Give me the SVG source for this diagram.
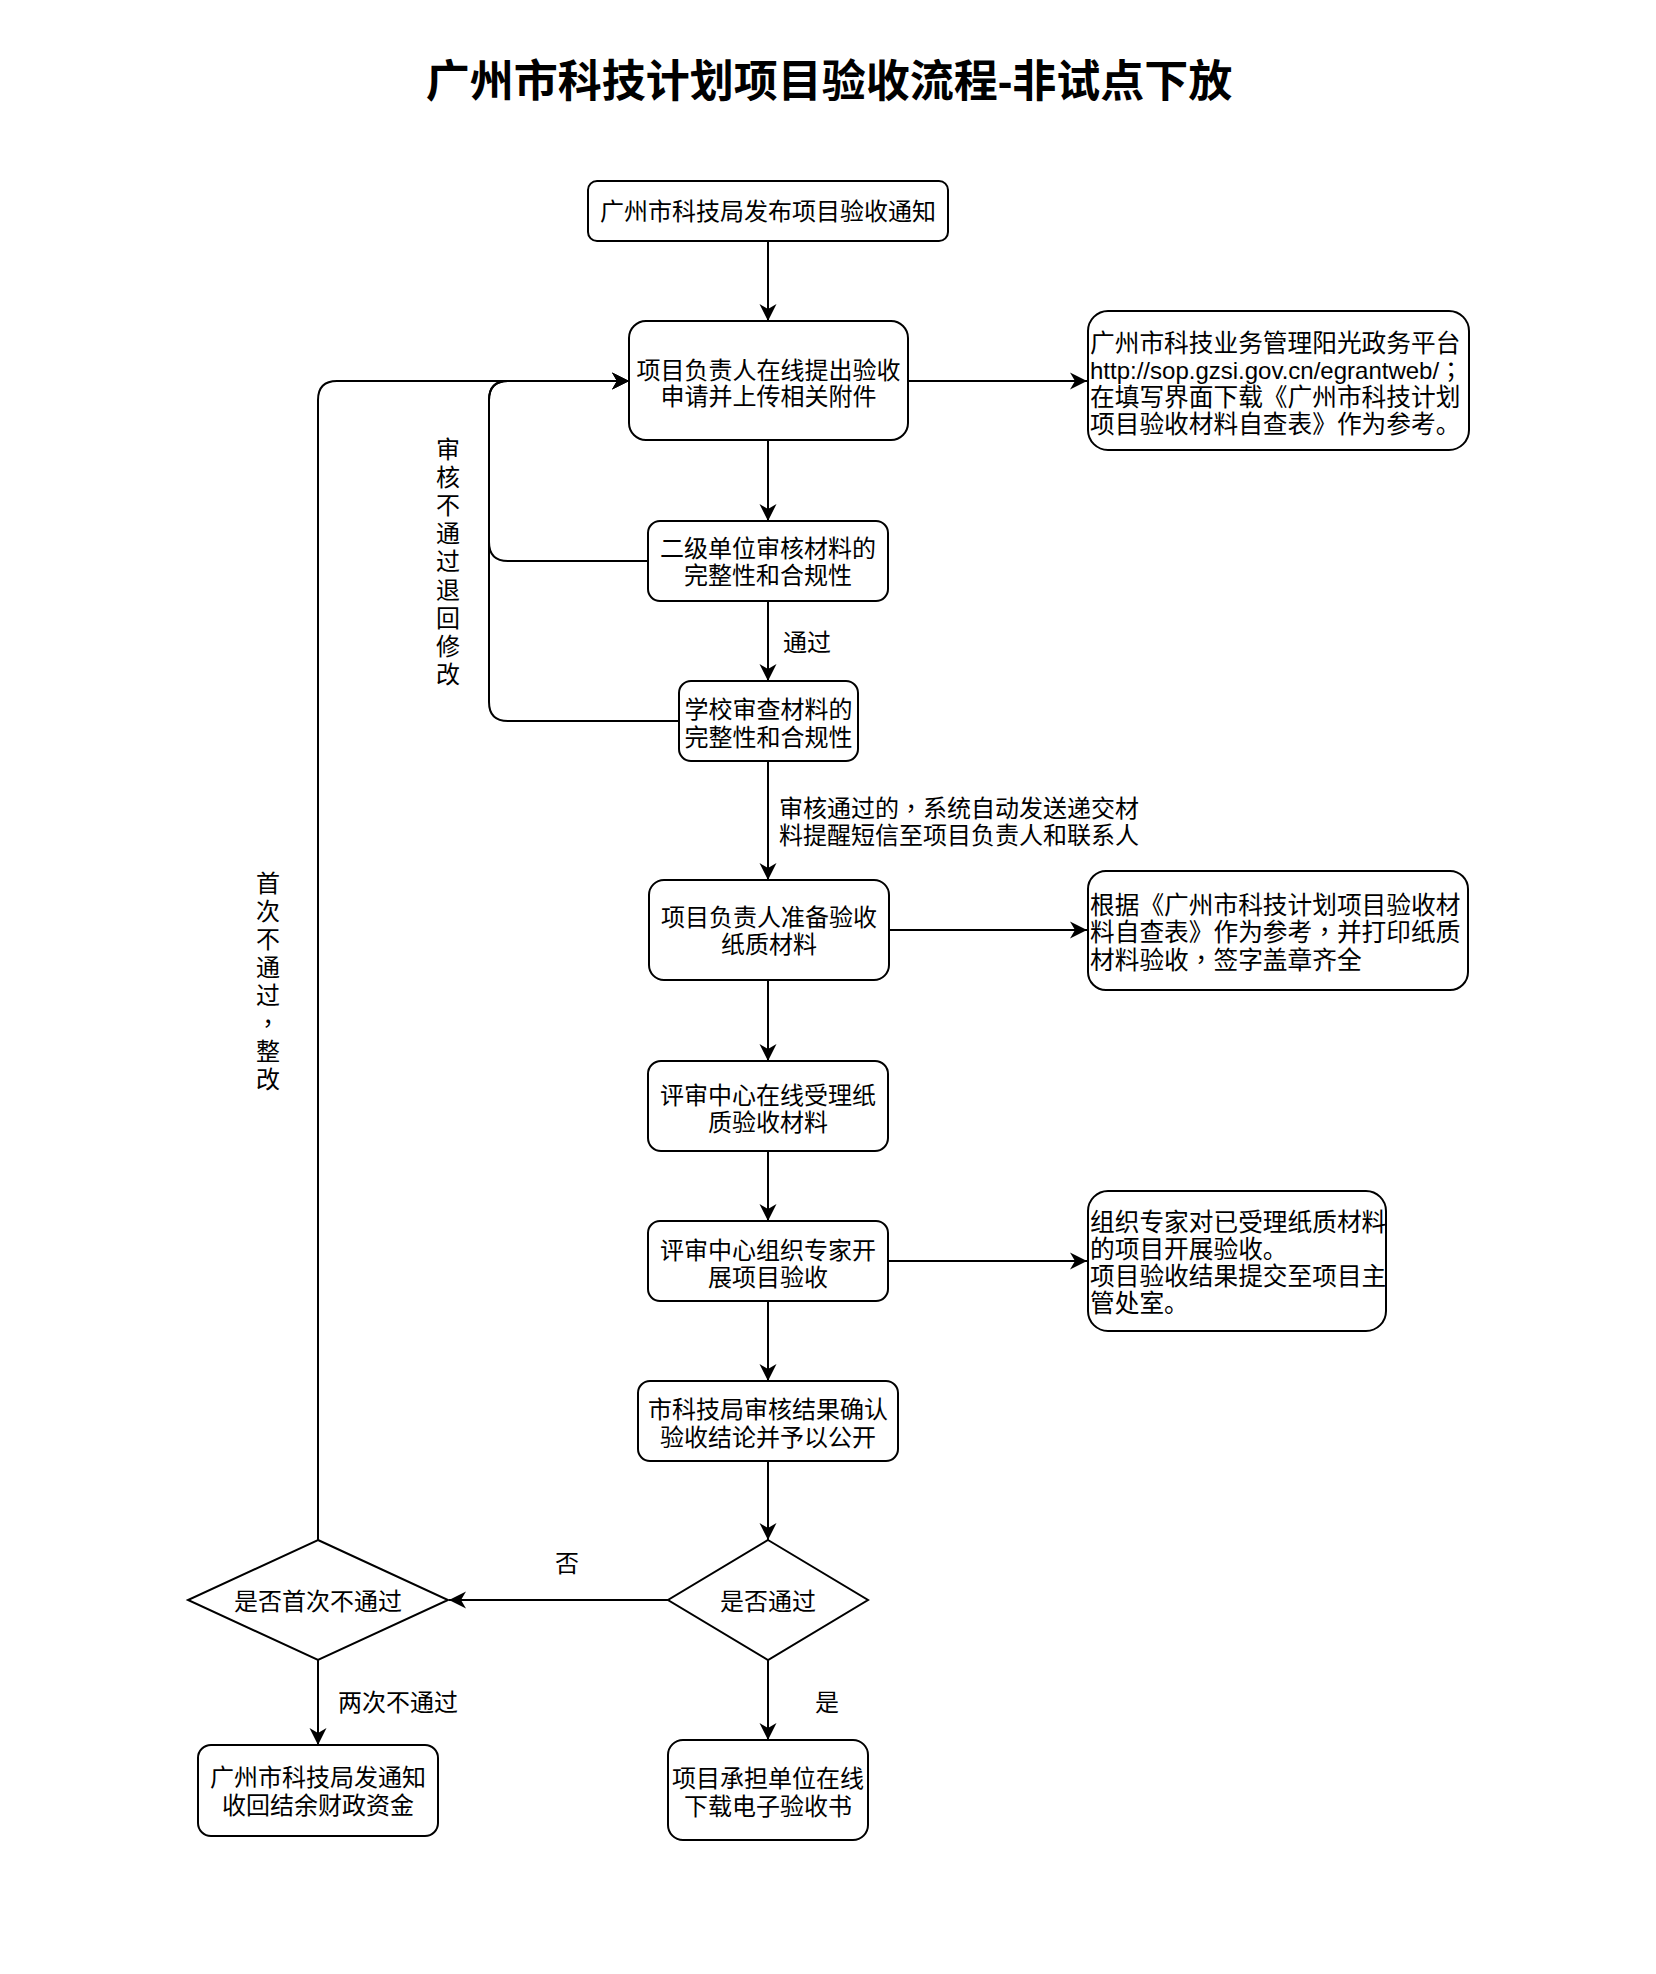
<svg xmlns="http://www.w3.org/2000/svg" width="1656" height="1974" viewBox="0 0 1656 1974">
<style>
.bg{fill:#ffffff}
.node{fill:#ffffff;stroke:#000000;stroke-width:2}
.edge{fill:none;stroke:#000000;stroke-width:2}
text{font-family:"Liberation Sans","Noto Sans CJK SC",sans-serif;fill:#000000}
.t{font-size:24px;text-anchor:middle}
.l{font-size:24px;text-anchor:start}
.i{font-size:24.7px;text-anchor:start}
.p{font-family:"Noto Sans CJK TC",sans-serif}
.title{font-size:44px;font-weight:bold;text-anchor:middle}
</style>
<defs>
<marker id="arr" markerUnits="userSpaceOnUse" markerWidth="18" markerHeight="18" viewBox="0 0 18 18" refX="17" refY="9" orient="auto">
<path d="M0,0.5 L17,9 L0,17.5 L5,9 Z" fill="#000000"/>
</marker>
</defs>
<rect class="bg" x="0" y="0" width="1656" height="1974"/>
<text class="title" x="829" y="97">广州市科技计划项目验收流程-非试点下放</text>

<g id="connectors">
<path class="edge" d="M768,241 L768,321" marker-end="url(#arr)"/>
<path class="edge" d="M908,381 L1087,381" marker-end="url(#arr)"/>
<path class="edge" d="M768,440 L768,521" marker-end="url(#arr)"/>
<path class="edge" d="M648,561 L508,561 Q489,561 489,542 L489,400 Q489,381 508,381 L629,381" marker-end="url(#arr)"/>
<path class="edge" d="M768,601 L768,681" marker-end="url(#arr)"/>
<path class="edge" d="M679,721 L508,721 Q489,721 489,702 L489,400 Q489,381 508,381 L629,381" marker-end="url(#arr)"/>
<path class="edge" d="M768,761 L768,880" marker-end="url(#arr)"/>
<path class="edge" d="M889,930 L1087,930" marker-end="url(#arr)"/>
<path class="edge" d="M768,980 L768,1061" marker-end="url(#arr)"/>
<path class="edge" d="M768,1151 L768,1221" marker-end="url(#arr)"/>
<path class="edge" d="M888,1261 L1087,1261" marker-end="url(#arr)"/>
<path class="edge" d="M768,1301 L768,1381" marker-end="url(#arr)"/>
<path class="edge" d="M768,1461 L768,1540" marker-end="url(#arr)"/>
<path class="edge" d="M668,1600 L449,1600" marker-end="url(#arr)"/>
<path class="edge" d="M768,1660 L768,1740" marker-end="url(#arr)"/>
<path class="edge" d="M318,1660 L318,1745" marker-end="url(#arr)"/>
<path class="edge" d="M318,1540 L318,400 Q318,381 337,381 L629,381" marker-end="url(#arr)"/>
<text class="l" x="783" y="650.5">通过</text>
<text class="l" x="779" y="816.5">审核通过的<tspan class="p">，</tspan>系统自动发送递交材</text>
<text class="l" x="779" y="843.5">料提醒短信至项目负责人和联系人</text>
<text class="t" x="567" y="1571.5">否</text>
<text class="t" x="827" y="1710.5">是</text>
<text class="l" x="338" y="1710.5">两次不通过</text>
<text class="t" x="448" y="457.5"><tspan x="448">审</tspan><tspan x="448" dy="28.2">核</tspan><tspan x="448" dy="28.2">不</tspan><tspan x="448" dy="28.2">通</tspan><tspan x="448" dy="28.2">过</tspan><tspan x="448" dy="28.2">退</tspan><tspan x="448" dy="28.2">回</tspan><tspan x="448" dy="28.2">修</tspan><tspan x="448" dy="28.2">改</tspan></text>
<text class="t" x="268" y="891.5"><tspan x="268">首</tspan><tspan x="268" dy="28.1">次</tspan><tspan x="268" dy="28.1">不</tspan><tspan x="268" dy="28.1">通</tspan><tspan x="268" dy="28.1">过</tspan><tspan x="268" dy="28.1" class="p">，</tspan><tspan x="268" dy="28.1">整</tspan><tspan x="268" dy="28.1">改</tspan></text>
</g>

<g id="n1"><rect class="node" x="588" y="181" width="360" height="60" rx="9"/><text class="t" x="768" y="220">广州市科技局发布项目验收通知</text></g>
<g id="n2"><rect class="node" x="629" y="321" width="279" height="119" rx="17"/><text class="t" x="768.5" y="379">项目负责人在线提出验收</text><text class="t" x="768.5" y="405">申请并上传相关附件</text></g>
<g id="info1"><rect class="node" x="1088" y="311" width="381" height="139" rx="20"/><text class="i" x="1090" y="351.5">广州市科技业务管理阳光政务平台</text><text class="l" x="1090" y="378.5">http://sop.gzsi.gov.cn/egrantweb/<tspan class="p">；</tspan></text><text class="i" x="1090" y="405.5">在填写界面下载《广州市科技计划</text><text class="i" x="1090" y="432.5">项目验收材料自查表》作为参考。</text></g>
<g id="n3"><rect class="node" x="648" y="521" width="240" height="80" rx="12"/><text class="t" x="768" y="557">二级单位审核材料的</text><text class="t" x="768" y="584">完整性和合规性</text></g>
<g id="n4"><rect class="node" x="679" y="681" width="179" height="80" rx="12"/><text class="t" x="768.5" y="717.5">学校审查材料的</text><text class="t" x="768.5" y="745.5">完整性和合规性</text></g>
<g id="n5"><rect class="node" x="649" y="880" width="240" height="100" rx="15"/><text class="t" x="769" y="925.5">项目负责人准备验收</text><text class="t" x="769" y="953">纸质材料</text></g>
<g id="info2"><rect class="node" x="1088" y="871" width="380" height="119" rx="18"/><text class="i" x="1090" y="913.5">根据《广州市科技计划项目验收材</text><text class="i" x="1090" y="941">料自查表》作为参考<tspan class="p">，</tspan>并打印纸质</text><text class="i" x="1090" y="968.5">材料验收<tspan class="p">，</tspan>签字盖章齐全</text></g>
<g id="n6"><rect class="node" x="648" y="1061" width="240" height="90" rx="13"/><text class="t" x="768" y="1103.5">评审中心在线受理纸</text><text class="t" x="768" y="1130.5">质验收材料</text></g>
<g id="n7"><rect class="node" x="648" y="1221" width="240" height="80" rx="12"/><text class="t" x="768" y="1258.5">评审中心组织专家开</text><text class="t" x="768" y="1285.5">展项目验收</text></g>
<g id="info3"><rect class="node" x="1088" y="1191" width="298" height="140" rx="20"/><text class="i" x="1090" y="1231">组织专家对已受理纸质材料</text><text class="i" x="1090" y="1258">的项目开展验收。</text><text class="i" x="1090" y="1285">项目验收结果提交至项目主</text><text class="i" x="1090" y="1312">管处室。</text></g>
<g id="n8"><rect class="node" x="638" y="1381" width="260" height="80" rx="12"/><text class="t" x="768" y="1417.5">市科技局审核结果确认</text><text class="t" x="768" y="1445.5">验收结论并予以公开</text></g>
<g id="d1"><path class="node" d="M768,1540 L868,1600 L768,1660 L668,1600 Z"/><text class="t" x="768" y="1610">是否通过</text></g>
<g id="d2"><path class="node" d="M318,1540 L448,1600 L318,1660 L188,1600 Z"/><text class="t" x="318" y="1610">是否首次不通过</text></g>
<g id="n9"><rect class="node" x="198" y="1745" width="240" height="91" rx="13"/><text class="t" x="318" y="1786">广州市科技局发通知</text><text class="t" x="318" y="1814">收回结余财政资金</text></g>
<g id="n10"><rect class="node" x="668" y="1740" width="200" height="100" rx="15"/><text class="t" x="768" y="1787">项目承担单位在线</text><text class="t" x="768" y="1815">下载电子验收书</text></g>
</svg>
